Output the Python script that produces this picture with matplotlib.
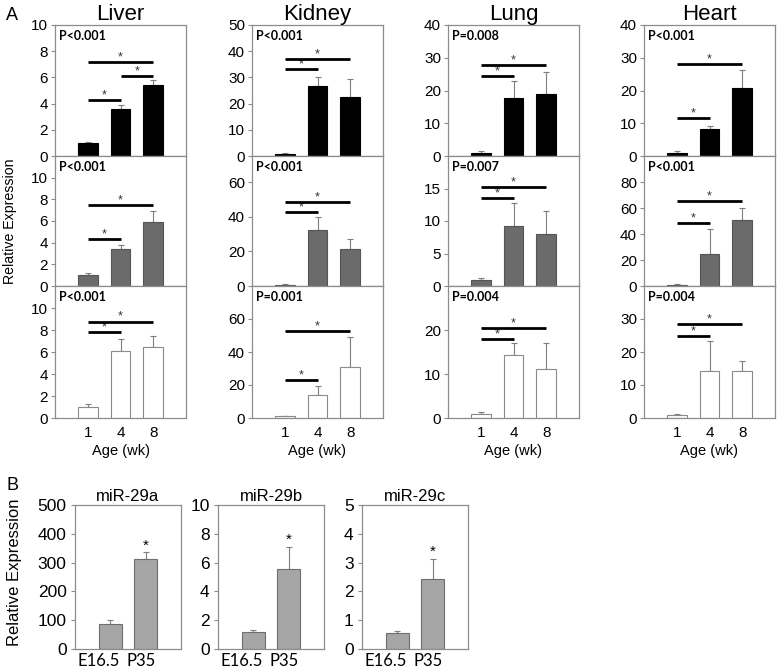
import matplotlib.pyplot as plt
import numpy as np

plt.rcParams['font.family'] = ['Liberation Sans', 'DejaVu Sans']

organs = ["Liver", "Kidney", "Lung", "Heart"]
ages = ["1", "4", "8"]

# one list per row (organ order), mean and upper error
row1_means = [[1.0, 3.55, 5.4], [0.9, 26.8, 22.4], [1.0, 17.8, 19.0], [1.0, 8.1, 20.8]]
row1_errs = [[0.05, 0.35, 0.4], [0.3, 3.5, 6.9], [0.4, 5.1, 6.6], [0.4, 1.1, 5.5]]
row2_means = [[1.0, 3.43, 5.93], [0.8, 32.3, 21.3], [1.0, 9.2, 8.0], [1.0, 24.6, 50.5]]
row2_errs = [[0.24, 0.37, 1.01], [0.5, 7.3, 5.6], [0.3, 3.6, 3.6], [0.6, 19.2, 9.2]]
row3_means = [[1.0, 6.12, 6.46], [1.0, 14.0, 31.1], [1.0, 14.4, 11.2], [1.0, 14.1, 14.1]]
row3_errs = [[0.31, 1.1, 1.01], [0.4, 5.5, 17.7], [0.3, 2.6, 5.9], [0.2, 9.3, 3.3]]

row1_p = ["P<0.001", "P<0.001", "P=0.008", "P<0.001"]
row2_p = ["P<0.001", "P<0.001", "P=0.007", "P<0.001"]
row3_p = ["P<0.001", "P=0.001", "P=0.004", "P=0.004"]

# significance brackets: (from bar, to bar, level)
row1_sig = [[(0, 2, 7.15), (1, 2, 6.1), (0, 1, 4.27)], [(0, 1, 33.1), (0, 2, 37.1)],
            [(0, 1, 24.3), (0, 2, 27.9)], [(0, 1, 11.5), (0, 2, 28.0)]]
row2_sig = [[(0, 2, 7.5), (0, 1, 4.32)], [(0, 1, 42.7), (0, 2, 48.7)],
            [(0, 1, 13.5), (0, 2, 15.3)], [(0, 1, 48.5), (0, 2, 65.4)]]
row3_sig = [[(0, 1, 7.8), (0, 2, 8.77)], [(0, 1, 23.0), (0, 2, 52.9)],
            [(0, 1, 17.9), (0, 2, 20.5)], [(0, 1, 24.9), (0, 2, 28.4)]]

row1_ylim = [10, 50, 40, 40]
row1_tick = [(10, 2), (50, 10), (40, 10), (40, 10)]
row2_ylim = [12, 75, 20, 100]
row2_tick = [(10, 2), (60, 20), (15, 5), (80, 20)]
row3_ylim = [12, 80, 30, 40]
row3_tick = [(10, 2), (60, 20), (20, 10), (30, 10)]

mirs = ["miR-29a", "miR-29b", "miR-29c"]
stages = ["E16.5", "P35"]
mir_means = [[87.6, 311.8], [1.15, 5.54], [0.56, 2.43]]
mir_errs = [[13.4, 24.0], [0.2, 1.56], [0.08, 0.7]]
mir_ylim = [500, 10, 5]
mir_step = [100, 2, 1]

W, H = 777, 670
fig = plt.figure(figsize=(W / 100, H / 100), dpi=100)

frame_col = "#8c8c8c"
err_col = "#7f7f7f"


def px_axes(x0, y0, x1, y1):
    return fig.add_axes([x0 / W, 1 - y1 / H, (x1 - x0) / W, (y1 - y0) / H])


def style(ax):
    for s in ax.spines.values():
        s.set_color(frame_col)
        s.set_linewidth(0.9)
    ax.tick_params(axis="y", length=3, color=frame_col, labelsize=11, pad=2)
    ax.tick_params(axis="x", length=0, labelsize=11, pad=6)


col_x = [55, 252, 448, 644]
row_y = [(25, 156), (156, 286), (286, 418)]
rows = [
    (row1_means, row1_errs, row1_p, row1_sig, row1_ylim, row1_tick, "black", "black"),
    (row2_means, row2_errs, row2_p, row2_sig, row2_ylim, row2_tick, "#6b6b6b", "#555555"),
    (row3_means, row3_errs, row3_p, row3_sig, row3_ylim, row3_tick, "white", "#8a8a8a"),
]

x = np.arange(1, 4)
for r, (means, errs, pvals, sigs, ylims, ticks, fc, ec) in enumerate(rows):
    for c in range(4):
        ax = px_axes(col_x[c], row_y[r][0], col_x[c] + 131, row_y[r][1])
        style(ax)
        ax.bar(x, means[c], width=0.6, color=fc, edgecolor=ec, linewidth=0.8, zorder=2)
        ax.errorbar(x, means[c], yerr=[[0, 0, 0], errs[c]], fmt="none",
                    ecolor=err_col, elinewidth=0.8, capsize=2.5, capthick=0.8, zorder=1)
        ax.set_xlim(0, 4)
        ax.set_ylim(0, ylims[c])
        top, step = ticks[c]
        ax.set_yticks(np.arange(0, top + step / 2, step))
        for i, j, lev in sigs[c]:
            ax.plot([x[i], x[j]], [lev, lev], color="black", lw=2, solid_capstyle="butt", zorder=3)
            ax.annotate("*", ((x[i] + x[j]) / 2, lev), xytext=(0, -1), textcoords="offset points",
                        ha="center", va="bottom", fontsize=9, color="#333333")
        ax.text(0.03, 0.965, pvals[c], transform=ax.transAxes, ha="left", va="top",
                fontsize=9, fontweight="bold", family=["Lato", "DejaVu Sans"])
        if r == 0:
            ax.set_title(organs[c], fontsize=16, pad=1)
        if r == 2:
            ax.set_xticks(x)
            ax.set_xticklabels(ages)
            ax.set_xlabel("Age (wk)", fontsize=10.5, labelpad=3)
        else:
            ax.set_xticks([])

fig.text(12 / W, 1 - 16 / H, "A", fontsize=13, ha="center", va="center")
fig.text(10 / W, 1 - 221 / H, "Relative Expression", fontsize=10.2, rotation=90,
         ha="center", va="center")

# panel B
fig.text(12 / W, 1 - 486 / H, "B", fontsize=13, ha="center", va="center")
fig.text(15 / W, 1 - 572 / H, "Relative Expression", fontsize=12, rotation=90,
         ha="center", va="center")
mir_x = [75, 218, 362]
xb = np.arange(2)
for k in range(3):
    ax = px_axes(mir_x[k], 505, mir_x[k] + 106, 649)
    style(ax)
    ax.tick_params(axis="y", labelsize=12.5, pad=3)
    ax.bar(xb, mir_means[k], width=0.65, color="#a6a6a6", edgecolor="#6e6e6e",
           linewidth=0.8, zorder=2)
    ax.errorbar(xb, mir_means[k], yerr=[[0, 0], mir_errs[k]], fmt="none",
                ecolor=err_col, elinewidth=0.8, capsize=2.5, capthick=0.8, zorder=1)
    ax.annotate("*", (xb[1], mir_means[k][1] + mir_errs[k][1]), xytext=(0, 0),
                textcoords="offset points", ha="center", va="bottom", fontsize=11)
    ax.set_xlim(-1, 2)
    ax.set_ylim(0, mir_ylim[k])
    ax.set_yticks(np.arange(0, mir_ylim[k] + mir_step[k] / 2, mir_step[k]))
    # category labels sit slightly left of the bars, as in the original
    ax.set_xticks(xb + np.array([-0.34, -0.14]))
    ax.set_xticklabels(stages, family=["Lato", "DejaVu Sans"], fontsize=12)
    ax.tick_params(axis="x", pad=3)
    ax.set_title(mirs[k], fontsize=12, pad=3)

fig.savefig("out.png", dpi=100)
plt.close(fig)
